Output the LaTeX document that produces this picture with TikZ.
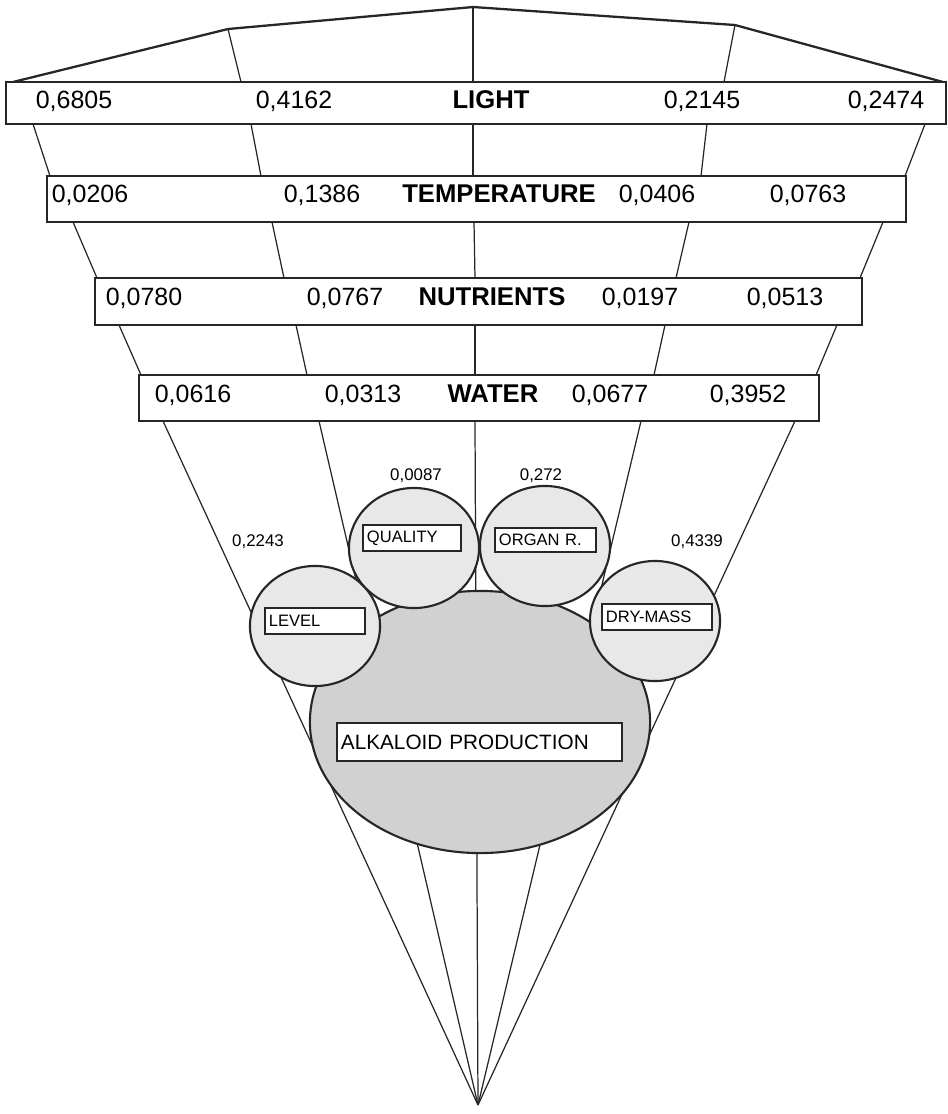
\documentclass[tikz,border=0pt]{standalone}
\usepackage{fontspec}
\setmainfont{Liberation Sans}
\usetikzlibrary{shapes.geometric}

\begin{document}
\begin{tikzpicture}[
    x=0.01cm, y=-0.01cm,
    fanline/.style={line width=0.35pt, black!85},
    roofline/.style={line width=0.65pt, black!85},
    rowbox/.style={draw=black!85, line width=0.65pt, fill=white, inner sep=0pt},
    tagbox/.style={draw=black!85, line width=0.6pt, fill=white, inner xsep=0.04cm,
                   inner ysep=0pt, align=left, font=\fontsize{4.7}{5}\selectfont},
    bubble/.style={ellipse, draw=black!85, line width=0.6pt, fill=gray!18, inner sep=0pt,
                   minimum width=1.3cm, minimum height=1.2cm},
    num/.style={anchor=base, inner sep=0pt, font=\fontsize{7.1}{8}\selectfont},
    factor/.style={anchor=base, inner sep=0pt, font=\fontsize{7.3}{8}\selectfont\bfseries},
    weight/.style={anchor=base, inner sep=0pt, font=\fontsize{4.8}{5}\selectfont},
  ]
  \useasboundingbox (0,0) rectangle (948,1114);

  % roof
  \draw[roofline] (13,82) -- (228,29) -- (473,7) -- (735,25) -- (943,82);
  \foreach \a/\h/\b in {228/29/241, 473/7/473, 735/25/724}
    \draw[fanline] (\a,\h) -- (\b,82);

  % fan between the rows
  \foreach \a/\b in {33/50, 251/261, 473/473, 707/701, 925/905}
    \draw[fanline] (\a,124) -- (\b,176);
  \foreach \a/\b in {73/97, 272/284, 474/475, 689/676, 883/860}
    \draw[fanline] (\a,222) -- (\b,278);
  \foreach \a/\b in {119/141, 296/307, 475/475, 665/654, 837/816}
    \draw[fanline] (\a,325) -- (\b,375);
  \coordinate (apex) at (478,1105);
  \foreach \a in {163,319,475,641,795}
    \draw[fanline] (\a,421) -- (apex);

  % rows
  \node[rowbox, minimum width=9.40cm, minimum height=0.42cm] (light) at (476,103) {};
  \node[rowbox, minimum width=8.59cm, minimum height=0.46cm] (temp) at (476.5,199) {};
  \node[rowbox, minimum width=7.67cm, minimum height=0.47cm] (nutr) at (478.5,301.5) {};
  \node[rowbox, minimum width=6.80cm, minimum height=0.46cm] (water) at (479,398) {};

  \foreach \x/\t [count=\i] in {74/{0,6805}, 294/{0,4162}, 702/{0,2145}, 886/{0,2474}}
    \node[num] (light\i) at (\x,108) {\t};
  \node[factor] (lightname) at (491,108) {LIGHT};
  \foreach \x/\t [count=\i] in {90/{0,0206}, 322/{0,1386}, 657/{0,0406}, 808/{0,0763}}
    \node[num] (temp\i) at (\x,202) {\t};
  \node[factor] (tempname) at (499,202) {TEMPERATURE};
  \foreach \x/\t [count=\i] in {144/{0,0780}, 345/{0,0767}, 640/{0,0197}, 785/{0,0513}}
    \node[num] (nutr\i) at (\x,305) {\t};
  \node[factor] (nutrname) at (492,305) {NUTRIENTS};
  \foreach \x/\t [count=\i] in {193/{0,0616}, 363/{0,0313}, 610/{0,0677}, 748/{0,3952}}
    \node[num] (water\i) at (\x,402) {\t};
  \node[factor] (watername) at (493,402) {WATER};

  % goal and criteria
  \node[bubble, fill=gray!36, minimum width=3.40cm, minimum height=2.62cm] (alk) at (480,722) {};
  \node[bubble] (level) at (315,626) {};
  \node[bubble] (quality) at (414,548) {};
  \node[bubble] (organ) at (545,546) {};
  \node[bubble] (drymass) at (655,621) {};

  \node[tagbox, text width=0.92cm, minimum height=0.26cm] (leveltag) at (315,621) {LEVEL};
  \node[tagbox, text width=0.90cm, minimum height=0.26cm] (qualitytag) at (412,538) {QUALITY};
  \node[tagbox, text width=0.93cm, minimum height=0.24cm] (organtag) at (545.5,540) {ORGAN R.};
  \node[tagbox, text width=1.02cm, minimum height=0.26cm] (drymasstag) at (657,617) {DRY-MASS};
  \node[tagbox, text width=2.77cm, minimum height=0.38cm, font=\fontsize{5.9}{7}\selectfont]
    (alktag) at (479.5,742) {ALKALOID PRODUCTION};

  \node[weight] (wlevel) at (258,546) {0,2243};
  \node[weight] (wquality) at (416,480) {0,0087};
  \node[weight] (worgan) at (541,480) {0,272};
  \node[weight] (wdrymass) at (697,546) {0,4339};
\end{tikzpicture}
\end{document}
